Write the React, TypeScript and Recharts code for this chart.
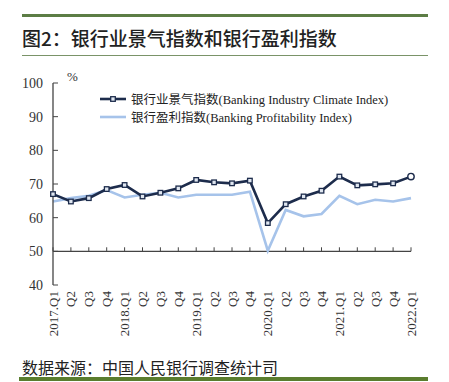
import { LineChart, Line, XAxis, YAxis, ReferenceLine } from 'recharts';

const quarters = [
  '2017Q1', '2017Q2', '2017Q3', '2017Q4',
  '2018Q1', '2018Q2', '2018Q3', '2018Q4',
  '2019Q1', '2019Q2', '2019Q3', '2019Q4',
  '2020Q1', '2020Q2', '2020Q3', '2020Q4',
  '2021Q1', '2021Q2', '2021Q3', '2021Q4',
  '2022Q1',
];
const tickLabels = [
  '2017.Q1', 'Q2', 'Q3', 'Q4',
  '2018.Q1', 'Q2', 'Q3', 'Q4',
  '2019.Q1', 'Q2', 'Q3', 'Q4',
  '2020.Q1', 'Q2', 'Q3', 'Q4',
  '2021.Q1', 'Q2', 'Q3', 'Q4',
  '2022.Q1',
];
const climateIndex = [
  67.0, 64.8, 65.8, 68.5,
  69.7, 66.3, 67.4, 68.7,
  71.2, 70.5, 70.2, 71.0,
  58.4, 64.0, 66.3, 68.0,
  72.2, 69.6, 69.9, 70.2,
  72.2,
];
const profitIndex = [
  64.8, 65.8, 66.5, 68.2,
  66.0, 66.8, 67.4, 66.0,
  66.8, 66.8, 66.8, 67.7,
  50.2, 62.3, 60.4, 61.1,
  66.5, 64.0, 65.3, 64.8,
  65.8,
];
const yTicks = [40, 50, 60, 70, 80, 90, 100];

const DARK = '#1d2c4c';
const LIGHT = '#a6c3ea';
const GREEN = '#5c7d45';
const SERIF = '"Liberation Serif", "Noto Sans CJK SC", serif';
const CJK = '"Noto Sans CJK SC", sans-serif';

const data = quarters.map((q, i) => ({ q, climate: climateIndex[i], profit: profitIndex[i] }));

function SquareDot(props: any) {
  const { cx, cy, index } = props;
  if (cx == null || cy == null) return null;
  if (index === quarters.length - 1) {
    return <circle cx={cx} cy={cy} r={3.2} fill="#fff" stroke={DARK} strokeWidth={1.4} />;
  }
  return <rect x={cx - 2.3} y={cy - 2.3} width={4.6} height={4.6} fill="#dfe6f0" stroke={DARK} strokeWidth={1.3} />;
}

function RotatedTick(props: any) {
  const { x, y, payload, index } = props;
  const ty = y + 6;
  return (
    <text
      x={x} y={ty} dy="0.35em"
      transform={`rotate(-90, ${x}, ${ty})`}
      textAnchor="end"
      fontFamily={SERIF} fontSize={13} fill="#333"
    >
      {tickLabels[index] ?? payload.value}
    </text>
  );
}

export default function App() {
  return (
    <div style={{ position: 'fixed', left: 0, top: 0, width: 449, height: 382, background: '#fff', overflow: 'hidden' }}>
      {/* header rules and title */}
      <div style={{ position: 'absolute', left: 22, top: 14, width: 406, height: 3, background: GREEN }} />
      <div style={{
        position: 'absolute', left: 22, top: 25, fontFamily: CJK, fontSize: 19, fontWeight: 500,
        color: '#222', lineHeight: '26px', whiteSpace: 'nowrap',
      }}>
        图2：银行业景气指数和银行盈利指数
      </div>
      <div style={{ position: 'absolute', left: 22, top: 55, width: 406, height: 1, background: '#7a9368' }} />

      <LineChart
        width={449} height={382} data={data}
        margin={{ top: 83, right: 38, bottom: 37, left: 13 }}
        style={{ position: 'absolute', left: 0, top: 0 }}
      >
        <XAxis
          dataKey="q" interval={0} height={60}
          axisLine={false} tickLine={false} tickSize={0} tickMargin={0}
          tick={<RotatedTick />}
        />
        <YAxis
          domain={[40, 100]} ticks={yTicks} width={40}
          axisLine={{ stroke: '#444', strokeWidth: 1.3 }}
          tickLine={{ stroke: '#444' }} tickSize={-5} tickMargin={15}
          tick={{ fontFamily: SERIF, fontSize: 14, fill: '#333' }}
        />
        <ReferenceLine y={50} stroke="#444" strokeWidth={1.3} />
        {quarters.map((q) => (
          <ReferenceLine key={q} segment={[{ x: q, y: 50 }, { x: q, y: 51.2 }]} stroke="#444" strokeWidth={1} />
        ))}
        <Line
          dataKey="profit" stroke={LIGHT} strokeWidth={2.6} dot={false}
          isAnimationActive={false}
        />
        <Line
          dataKey="climate" stroke={DARK} strokeWidth={2.6} dot={<SquareDot />}
          isAnimationActive={false}
        />
      </LineChart>

      <div style={{ position: 'absolute', left: 67, top: 69, fontFamily: SERIF, fontSize: 13, color: '#333' }}>%</div>

      {/* legend */}
      <svg width={30} height={30} style={{ position: 'absolute', left: 98, top: 90 }}>
        <line x1={2} y1={9} x2={28} y2={9} stroke={DARK} strokeWidth={2.6} />
        <rect x={12.7} y={6.7} width={4.6} height={4.6} fill="#dfe6f0" stroke={DARK} strokeWidth={1.3} />
        <line x1={2} y1={27} x2={28} y2={27} stroke={LIGHT} strokeWidth={2.6} />
      </svg>
      <div style={{ position: 'absolute', left: 131, top: 91, fontFamily: SERIF, fontSize: 12.5, color: '#222', lineHeight: '18px', whiteSpace: 'nowrap' }}>
        <div>银行业景气指数(Banking Industry Climate Index)</div>
        <div>银行盈利指数(Banking Profitability Index)</div>
      </div>

      {/* footer */}
      <div style={{
        position: 'absolute', left: 22, top: 356, fontFamily: CJK, fontSize: 16, color: '#222',
        lineHeight: '22px', whiteSpace: 'nowrap',
      }}>
        数据来源：中国人民银行调查统计司
      </div>
      <div style={{ position: 'absolute', left: 19, top: 377, width: 409, height: 4, background: '#5a7d2e' }} />
    </div>
  );
}
